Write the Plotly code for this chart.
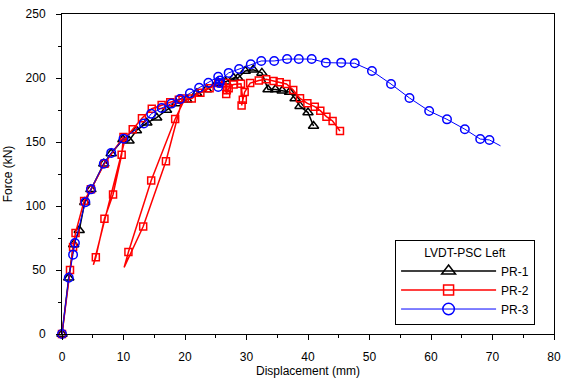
import plotly.graph_objects as go

# ---------------- data ----------------
pr1_disp = [0, 1.1, 1.9, 2.8, 3.7, 4.7, 6.8, 8.0, 9.9, 10.9, 12.1, 13.8, 15.4, 17.0,
            18.6, 20.3, 21.9, 23.5, 25.2, 26.6, 27.9, 28.6, 29.8, 31.1, 32.5, 33.5,
            34.7, 35.8, 37.0, 37.9, 38.7, 40.0, 40.9]
pr1_force = [0, 44, 70, 81, 103, 113, 133, 141, 152, 151, 159, 165, 169, 175,
             180, 183, 188, 191, 196, 197, 200, 200, 205.5, 206.5, 204, 191,
             191, 190, 189, 184, 178, 173, 162.5]
pr1_nomark = []

pr2_disp = [0, 1.3, 1.8, 2.2, 3.6, 4.7, 6.9, 10.0,
            9.7, 8.3, 6.9, 5.5, 5.1, 10.3,
            11.5, 13.0, 14.6, 16.2, 17.6, 19.0, 19.6,
            16.9, 13.2, 10.1, 10.8, 14.5, 18.4, 19.9,
            21.1, 22.5, 24.0, 25.4, 26.7, 26.8, 26.7, 27.1, 27.9, 29.1,
            29.4, 29.2, 29.7, 30.6, 32.0, 33.2, 34.4, 35.4, 36.5, 37.6,
            38.7, 39.9, 41.1, 42.0, 43.0, 44.0, 45.2]
pr2_force = [0, 50, 68, 79, 104, 113, 133, 154,
             140, 109, 90, 60, 54, 153,
             160, 168.5, 176, 179, 181, 183, 184,
             135, 84, 52, 64, 120, 168, 183,
             184, 188.5, 192, 196, 196, 190.5, 187.5, 192, 195, 195.5,
             183, 178.5, 189, 196, 198, 199, 197.7, 196.6, 195.3, 190.6,
             184.1, 180.2, 177.6, 174.5, 169.8, 166.4, 158.6]
pr2_nomark = [12, 13, 23, 27]

pr3_disp = [0, 1.1, 1.8, 2.1, 3.8, 4.7, 6.8, 8.0, 10.0, 13.3, 14.5, 16.2, 17.8,
            19.2, 20.8, 22.3, 23.8, 25.4, 25.6, 25.4, 25.7, 27.1, 28.8, 30.7,
            32.4, 34.5, 36.6, 38.5, 40.6, 42.9, 45.4, 47.6, 50.4, 53.5, 56.5,
            59.7, 62.6, 65.5, 68.0, 69.5, 71.3]
pr3_force = [0, 44, 62, 71, 103, 113, 133, 141.5, 152.5, 164.5, 172, 176.5, 180,
             183.5, 188, 192.4, 196.3, 201, 196, 193, 198, 204, 207, 210.7,
             213.3, 213.3, 214.8, 214.8, 214.8, 212, 212, 211.5, 205.5, 195.3, 184.4,
             174.2, 167.7, 160, 152.3, 151.6, 147]
pr3_nomark = [40]

x_ticks = [0, 10, 20, 30, 40, 50, 60, 70, 80]
y_ticks = [0, 50, 100, 150, 200, 250]
x_title = "Displacement (mm)"
y_title = "Force (kN)"
legend_title = "LVDT-PSC Left"

series = [
    ("PR-1", pr1_disp, pr1_force, pr1_nomark, "#000000", "triangle-up-open", 9, 1.5),
    ("PR-2", pr2_disp, pr2_force, pr2_nomark, "#ff0000", "square-open", 7, 1.5),
    ("PR-3", pr3_disp, pr3_force, pr3_nomark, "#0000ff", "circle-open", 8.5, 1.0),
]

FONT = "Liberation Sans, Arial, sans-serif"

fig = go.Figure()
for name, xs, ys, skip, color, symbol, msize, lw in series:
    # continuous path
    fig.add_trace(go.Scatter(x=xs, y=ys, mode="lines", line=dict(color=color, width=lw),
                             showlegend=False, hoverinfo="skip", cliponaxis=False))
    # markers
    mx = [v for i, v in enumerate(xs) if i not in skip]
    my = [v for i, v in enumerate(ys) if i not in skip]
    fig.add_trace(go.Scatter(x=mx, y=my, mode="markers", showlegend=False,
                             marker=dict(symbol=symbol, size=msize, color=color,
                                         line=dict(width=1.5)),
                             cliponaxis=False))
    # legend entry
    fig.add_trace(go.Scatter(x=[None], y=[None], mode="lines+markers", name=name,
                             line=dict(color=color, width=lw),
                             marker=dict(symbol=symbol, size=msize + 3, color=color,
                                         line=dict(width=1.5))))

axis_common = dict(
    showgrid=False, zeroline=False, showline=True, linecolor="#000000", linewidth=1,
    mirror=True, ticks="outside", ticklen=5, tickcolor="#000000", tickwidth=1,
    tickfont=dict(family=FONT, size=12, color="#000000"), automargin=False,
)

fig.update_xaxes(range=[0, 80], tickvals=x_ticks, ticktext=[str(v) for v in x_ticks],
                 minor=dict(dtick=5, ticks="outside", ticklen=3, tickcolor="#000000"),
                 ticklabelstandoff=7,
                 title=dict(text=x_title, font=dict(family=FONT, size=12, color="#000000"),
                            standoff=1),
                 **axis_common)
fig.update_yaxes(range=[0, 250], tickvals=y_ticks, ticktext=[str(v) for v in y_ticks],
                 minor=dict(dtick=25, ticks="outside", ticklen=3, tickcolor="#000000"),
                 ticklabelstandoff=8,
                 title=dict(text=y_title, font=dict(family=FONT, size=12, color="#000000"),
                            standoff=10),
                 **axis_common)

fig.update_layout(
    width=563, height=383,
    margin=dict(l=62, r=9, t=14, b=49),
    paper_bgcolor="white", plot_bgcolor="white",
    font=dict(family=FONT, size=12, color="#000000"),
    legend=dict(
        x=0.677, y=0.294, xanchor="left", yanchor="top",
        bgcolor="white", bordercolor="#000000", borderwidth=1,
        title=dict(text=legend_title, side="top center",
                   font=dict(family=FONT, size=12, color="#000000")),
        font=dict(family=FONT, size=12, color="#000000"),
        itemwidth=95, tracegroupgap=0,
    ),
)

fig.write_html("out.html", config={"displayModeBar": False},
               post_script="document.body.style.margin='0';")
